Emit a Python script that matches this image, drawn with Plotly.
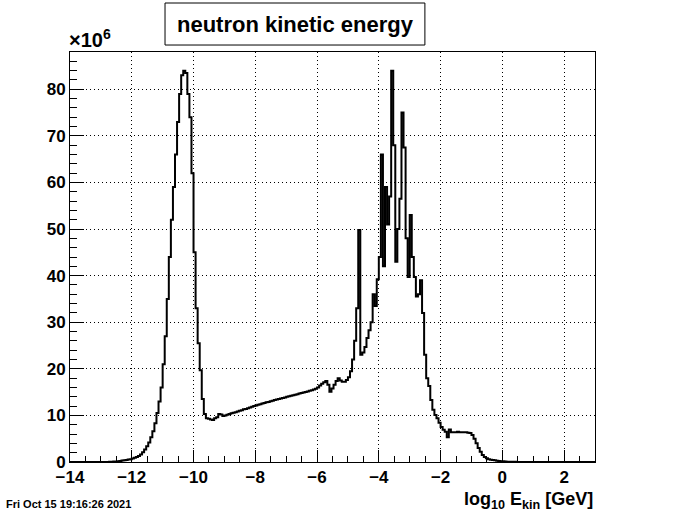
import numpy as np
import plotly.graph_objects as go

# ---- data (counts in units of 1e6 per bin) ----
x_lo, x_hi = -14.0, 3.0
counts = [
    # -14 .. -13
    0, 0, 0, 0, 0, 0, 0, 0, 0, 0, 0, 0, 0, 0, 0,
    # -13 .. -12
    0, 0, 0, 0.02, 0.04, 0.06, 0.09, 0.13, 0.18, 0.24, 0.3, 0.37, 0.44, 0.52, 0.6,
    # -12 .. -11
    0.75, 0.9, 1.1, 1.3, 1.6, 2.1, 2.7, 3.4, 4.2, 5.3, 6.6, 8.3, 10.5, 13, 16,
    # -11 .. -10
    21, 27, 35, 44, 52, 59, 66, 73, 79, 83, 84, 83.5, 79, 74, 62,
    # -10 .. -9
    45, 33, 25.5, 19.7, 13.5, 10.3, 9.4, 9.3, 9.1, 9.0, 9.4, 9.6, 10.3, 10.2, 9.9,
    # -9 .. -8
    10.0, 10.15, 10.3, 10.45, 10.55, 10.7, 10.85, 11.0, 11.1, 11.3, 11.4, 11.55, 11.7, 11.85, 12.0,
    # -8 .. -7
    12.15, 12.3, 12.4, 12.55, 12.65, 12.8, 12.9, 13.05, 13.15, 13.3, 13.4, 13.5, 13.65, 13.75, 13.85,
    # -7 .. -6
    14.0, 14.1, 14.2, 14.35, 14.45, 14.55, 14.7, 14.8, 14.9, 15.05, 15.15, 15.3, 15.4, 15.55, 15.7,
    # -6 .. -5
    16.0, 16.4, 16.8, 17.1, 17.4, 16.6, 15.1, 15.8, 16.6, 17.4, 18.0, 17.5, 17.2, 17.2, 17.6,
    # -5 .. -4
    18.2, 19.5, 22, 26, 33, 49.8, 23, 23.5, 24.7, 26.6, 28.3, 30, 36, 33.5, 39.2,
    # -4 .. -3
    44, 66, 42, 59, 51, 57, 84, 68, 43, 50, 56.5, 75, 67.5, 48, 39.7,
    # -3 .. -2
    53, 44, 39.7, 35.5, 36, 39, 32, 23, 18, 16.3, 13.3, 11.2, 10.1, 9.4, 8.4,
    # -2 .. -1
    7.5, 6.9, 6.5, 5.3, 7.0, 6.4, 6.4, 6.4, 6.5, 6.4, 6.4, 6.4, 6.4, 6.3, 6.2,
    # -1 .. 0
    5.8, 5.0, 4.0, 3.0, 2.2, 1.5, 1.1, 0.8, 0.6, 0.5, 0.43, 0.35, 0.28, 0.22, 0.18,
    # 0 .. 1
    0.14, 0.1, 0.08, 0.06, 0.05, 0.04, 0.03, 0.02, 0.01, 0, 0, 0, 0, 0, 0,
    # 1 .. 2
    0, 0, 0, 0, 0, 0, 0, 0, 0, 0, 0, 0, 0, 0, 0,
    # 2 .. 3
    0, 0, 0, 0, 0, 0, 0, 0, 0, 0, 0, 0, 0, 0, 0,
]
x_ticks = [-14, -12, -10, -8, -6, -4, -2, 0, 2]
y_ticks = [0, 10, 20, 30, 40, 50, 60, 70, 80]
y_max = 88

title_text = "neutron kinetic energy"
x_title = "log<sub>10</sub> E<sub>kin</sub> [GeV]"
date_text = "Fri Oct 15 19:16:26 2021"

edges = np.linspace(x_lo, x_hi, len(counts) + 1)
xs = list(edges)
ys = list(counts) + [counts[-1]]

FONT = "Liberation Sans"

fig = go.Figure()
fig.add_trace(go.Scatter(
    x=xs, y=ys, mode="lines",
    line=dict(shape="hv", color="black", width=2),
    hoverinfo="skip", showlegend=False,
))

axis_common = dict(
    showline=True, linecolor="black", linewidth=1, mirror=True,
    showgrid=True, gridcolor="black", gridwidth=1, griddash="1px,3px",
    zeroline=False, ticks="inside", tickcolor="black", tickwidth=1,
    tickfont=dict(family=FONT, size=17, color="black", weight="bold"),
)

fig.update_xaxes(
    range=[x_lo, x_hi], tickmode="array", tickvals=x_ticks, ticklen=12,
    minor=dict(dtick=0.5, tick0=x_lo, ticks="inside", ticklen=6, tickcolor="black",
               tickwidth=1, showgrid=False),
    **axis_common,
)
fig.update_yaxes(
    range=[0, y_max], tickmode="array", tickvals=y_ticks, ticklen=14,
    minor=dict(dtick=2, tick0=0, ticks="inside", ticklen=7, tickcolor="black",
               tickwidth=1, showgrid=False),
    **axis_common,
)

fig.add_shape(type="rect", xref="paper", yref="paper",
              x0=0.181, x1=0.676, y0=1.017, y1=1.1195,
              line=dict(color="black", width=1), fillcolor="white", layer="above")

fig.add_annotation(xref="paper", yref="paper", x=0.4286, y=1.066,
                   text=title_text, showarrow=False, xanchor="center", yanchor="middle",
                   font=dict(family=FONT, size=22, color="black", weight="bold"))
fig.add_annotation(xref="paper", yref="paper", x=-0.006, y=0.998,
                   text="×10<sup>6</sup>", showarrow=False, xanchor="left", yanchor="bottom",
                   font=dict(family=FONT, size=20, color="black", weight="bold"))
fig.add_annotation(xref="paper", yref="paper", x=1.0, y=-0.093,
                   text=x_title, showarrow=False, xanchor="right", yanchor="middle",
                   font=dict(family=FONT, size=18, color="black", weight="bold"))
fig.add_annotation(xref="paper", yref="paper", x=-0.1257, y=-0.1024,
                   text=date_text, showarrow=False, xanchor="left", yanchor="middle",
                   font=dict(family=FONT, size=11, color="black", weight="bold"))

fig.update_layout(
    width=700, height=514,
    margin=dict(l=70, r=105, t=52, b=52),
    paper_bgcolor="white", plot_bgcolor="white",
    showlegend=False,
)

# remove the browser's default 8px page margin so the figure fills the window
fig.write_html("out.html",
               config={"displayModeBar": False, "staticPlot": True},
               post_script="document.body.style.margin='0';document.body.style.overflow='hidden';")
